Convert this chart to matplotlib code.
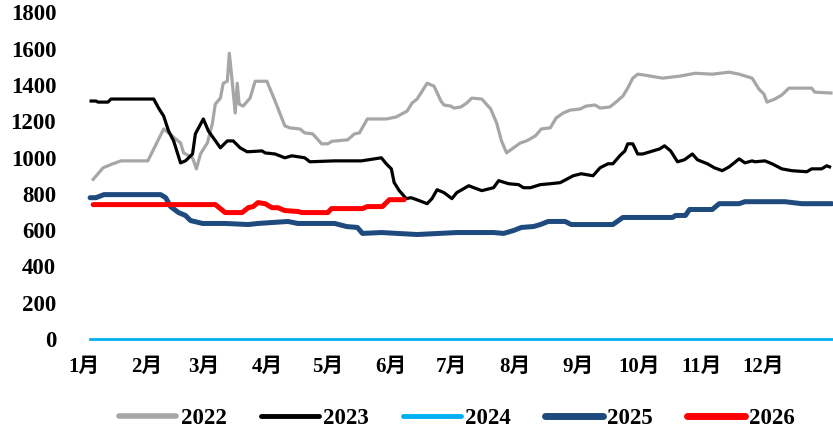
import matplotlib
matplotlib.use("Agg")
import matplotlib.pyplot as plt

# ---- data (day of year, value) ----
days_2022 = [1.5, 3.9, 6.4, 8.8, 11.2, 15.2, 28.4, 36.2, 42.1, 44.5, 46.0, 50.4, 52.3, 54.3, 57.7,
             60.1, 61.6, 64.1, 65.5, 67.5, 68.5, 69.9, 71.4, 72.4, 73.3, 75.3, 78.7, 81.2, 87.0,
             91.0, 95.8, 98.3, 103.2, 105.6, 109.5, 113.9, 116.9, 119.0, 126.7, 130.1, 132.5,
             136.4, 145.7, 150.6, 156.0, 158.4, 160.9, 165.8, 169.2, 172.6, 174.1, 177.5, 179.0,
             182.4, 185.3, 187.8, 192.7, 197.1, 200.0, 202.4, 204.9, 208.3, 211.7, 214.7, 219.1,
             222.0, 226.4, 229.3, 232.8, 236.2, 241.1, 244.0, 248.4, 250.9, 255.7, 258.2, 262.1,
             264.5, 267.0, 269.4, 273.3, 281.7, 290.0, 297.8, 306.1, 314.4, 319.3, 325.7, 329.1,
             331.5, 333.0, 336.9, 340.3, 343.8, 355.0, 356.5, 364.5]
vals_2022 = [880, 911, 944, 955, 966, 982, 982, 1158, 1103, 1081, 1026, 999, 938, 1020, 1081,
             1185, 1295, 1328, 1410, 1421, 1575, 1421, 1246, 1410, 1295, 1284, 1328, 1421, 1421,
             1312, 1175, 1164, 1158, 1136, 1131, 1076, 1076, 1090, 1098, 1131, 1136,
             1213, 1213, 1224, 1257, 1301, 1323, 1410, 1394, 1312, 1290, 1284, 1273,
             1279, 1301, 1328, 1323, 1268, 1191, 1092, 1026, 1054, 1081, 1092, 1120,
             1158, 1164, 1219, 1246, 1262, 1268, 1284, 1290, 1273, 1279, 1301, 1339,
             1383, 1438, 1460, 1454, 1438, 1449, 1465, 1460, 1471, 1460, 1438, 1377,
             1350, 1306, 1323, 1345, 1383, 1383, 1361, 1356]

days_2023 = [0.5, 2.9, 3.9, 8.8, 10.3, 31.3, 33.7, 36.2, 38.6, 41.1, 44.5, 46.9, 50.4, 51.8, 55.7,
             58.2, 64.1, 67.5, 70.4, 73.8, 77.3, 84.6, 86.1, 91.0, 95.8, 99.3, 105.6, 108.1,
             120.0, 133.5, 143.3, 145.7, 148.2, 149.6, 152.1, 155.5, 157.9, 161.9, 165.8, 168.2,
             170.7, 174.1, 178.0, 180.4, 186.3, 188.8, 192.7, 198.5, 201.0, 205.9, 210.8, 213.2,
             216.6, 221.5, 226.4, 231.3, 237.7, 241.6, 247.4, 250.9, 254.8, 257.2, 260.6, 263.1,
             264.5, 267.0, 269.4, 271.9, 280.2, 282.6, 285.6, 289.0, 292.4, 296.3, 298.8, 303.7,
             307.1, 311.0, 314.4, 319.3, 322.2, 325.7, 327.1, 332.0, 335.5, 340.3, 345.2, 352.6,
             355.0, 359.9, 362.4, 363.8]
vals_2023 = [1312, 1312, 1306, 1306, 1323, 1323, 1273, 1229, 1147, 1092, 971, 982, 1020, 1131, 1213,
             1147, 1054, 1092, 1092, 1054, 1032, 1037, 1026, 1020, 999, 1010, 999, 977,
             982, 982, 999, 966, 938, 862, 818, 774, 779, 763, 746, 774,
             823, 807, 774, 807, 845, 834, 818, 834, 873, 856, 851, 834,
             834, 851, 856, 862, 900, 911, 900, 944, 966, 966, 1010, 1037,
             1076, 1076, 1020, 1020, 1048, 1065, 1037, 977, 988, 1020, 988, 966,
             944, 928, 949, 993, 971, 982, 977, 982, 966, 938, 928, 922,
             938, 938, 955, 949]

days_2024 = [0, 365]
vals_2024 = [0, 0]

days_2025 = [0.0, 2.9, 6.8, 34.7, 37.2, 39.6, 43.5, 46.9, 49.4, 55.3, 66.5, 77.8, 82.6, 97.3, 102.2,
             120.3, 126.2, 131.5, 134.0, 143.3, 160.9, 180.4, 198.5, 203.4, 208.3, 212.2, 218.1,
             221.5, 225.4, 233.7, 236.7, 257.2, 262.1, 286.6, 288.0, 292.9, 294.9, 306.1, 309.5,
             319.3, 322.2, 341.8, 350.1, 365.0]
vals_2025 = [779, 779, 796, 796, 779, 730, 697, 681, 653, 637, 637, 631, 637, 648, 637,
             637, 620, 615, 582, 587, 576, 587, 587, 582, 598, 615, 620,
             631, 648, 648, 631, 631, 670, 670, 681, 681, 714, 714, 746,
             746, 757, 757, 746, 746]

days_2026 = [1.5, 61.6, 66.5, 74.8, 77.8, 80.2, 82.6, 86.1, 89.5, 92.4, 95.8, 102.2, 104.2, 116.9,
             118.8, 134.0, 136.4, 143.8, 147.2, 154.5]
vals_2026 = [741, 741, 697, 697, 724, 730, 752, 746, 724, 724, 708, 703, 697, 697,
             719, 719, 730, 730, 768, 768]

month_starts = [0, 31, 59, 90, 120, 151, 181, 212, 243, 273, 304, 334]
month_labels = ["1月", "2月", "3月", "4月", "5月", "6月", "7月", "8月", "9月", "10月", "11月", "12月"]
y_ticks = [0, 200, 400, 600, 800, 1000, 1200, 1400, 1600, 1800]

FONT = ["Liberation Serif", "Noto Sans CJK SC", "DejaVu Sans"]
plt.rcParams["font.family"] = FONT
plt.rcParams["font.weight"] = "bold"

fig = plt.figure(figsize=(8.33, 4.34), dpi=100)
ax = fig.add_axes([84 / 833, 1 - 339 / 434, 748 / 833, (339 - 12.5) / 434])

ax.plot(days_2022, vals_2022, color="#A6A6A6", lw=2.3, label="2022", clip_on=False, zorder=2)
ax.plot(days_2023, vals_2023, color="#000000", lw=2.3, label="2023", clip_on=False, zorder=3)
ax.plot(days_2024, vals_2024, color="#00B0F0", lw=2.0, label="2024", clip_on=False, zorder=3)
ax.plot(days_2025, vals_2025, color="#1F4A7E", lw=3.6, label="2025", clip_on=False, zorder=4,
        solid_capstyle="round")
ax.plot(days_2026, vals_2026, color="#FF0000", lw=3.6, label="2026", clip_on=False, zorder=5,
        solid_capstyle="round")

ax.set_xlim(0, 365)
ax.set_ylim(0, 1800)
for s in ax.spines.values():
    s.set_visible(False)

ax.set_yticks(y_ticks)
ax.set_yticklabels([str(v) for v in y_ticks], fontsize=16.5, fontweight="bold")
ax.set_xticks([m - 3 for m in month_starts])
ax.set_xticklabels(month_labels, fontsize=15, fontweight="bold")
ax.tick_params(axis="y", length=0, pad=20)
ax.tick_params(axis="x", length=0, pad=13)

leg = fig.legend(loc="center", bbox_to_anchor=(457 / 833, 1 - 418 / 434), ncol=5, frameon=False,
                 prop={"family": FONT, "weight": "bold", "size": 16.5},
                 handlelength=2.5, handletextpad=0.2, columnspacing=1.5)
for h in leg.get_lines():
    h.set_solid_capstyle("round")
lw_map = {"2022": 4, "2023": 3.5, "2024": 3.5, "2025": 5, "2026": 5}
for h, t in zip(leg.get_lines(), leg.get_texts()):
    h.set_linewidth(lw_map[t.get_text()])

fig.savefig("out.png", dpi=100)
